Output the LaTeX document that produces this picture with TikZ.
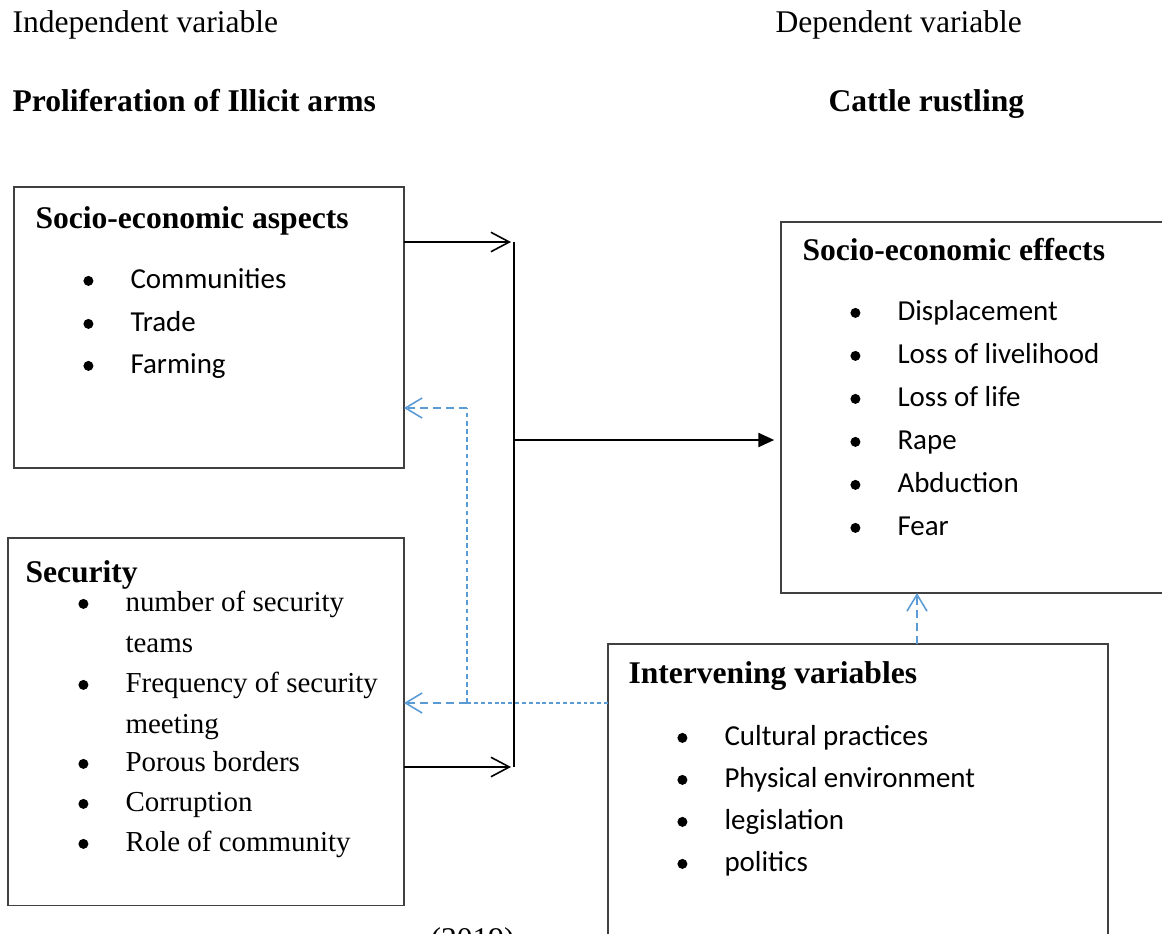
\documentclass[tikz,border=0pt]{standalone}
\usepackage{fontspec}
\setmainfont{Liberation Serif}
\newfontfamily\calibri{Carlito}
\usetikzlibrary{arrows.meta,positioning}
\definecolor{linkblue}{HTML}{5B9BD5}
\definecolor{boxline}{HTML}{404040}
% bullet set 42px (16pt) to the left of the item text
\newcommand{\bl}{\makebox[0pt][r]{\tikz[baseline=-2.7pt]\fill (0,0) circle[radius=1.9pt];\hspace{14.1pt}}}

\begin{document}
\begin{tikzpicture}[
  x=0.38pt, y=-0.38pt,
  font=\fontsize{12}{14}\selectfont,
  box/.style={draw=boxline,line width=0.45pt,outer sep=0pt,inner sep=0pt,anchor=north west},
  plain/.style={anchor=base west,inner sep=0pt},
  head/.style={plain,font=\fontsize{12}{14}\selectfont\bfseries},
  item/.style={plain,font=\calibri\fontsize{11}{13}\selectfont},
  sitem/.style={plain,font=\fontsize{11}{15.6}\selectfont},
  arr/.style={line width=0.55pt,-{Straight Barb[length=7pt,width=7.4pt,line width=0.6pt]}},
  flow/.style={line width=0.55pt,shorten >=2.6pt,-{Triangle[length=6pt,width=5.4pt]}},
  blink/.style={linkblue,line width=0.55pt,dash pattern=on 3pt off 1.9pt,
    -{Straight Barb[length=6.3pt,width=7.6pt,line width=0.6pt]}},
  mid/.style={linkblue,line width=0.45pt,dash pattern=on 1.8pt off 1.3pt},
  fine/.style={linkblue,line width=0.4pt,dash pattern=on 1.5pt off 1.1pt}
]
\useasboundingbox (0,0) rectangle (1162,934);
\clip (0,0) rectangle (1162,934);

% headings
\node[plain] (indep) at (12,32) {Independent variable};
\node[plain] (dep) at (775,32) {Dependent variable};
\node[head] (cause) at (12,111) {Proliferation of Illicit arms};
\node[head] (effect) at (828,111) {Cattle rustling};

% boxes
\node[box,minimum width=148.2pt,minimum height=106.8pt] (aspects) at (14,187) {};
\node[box,minimum width=150.5pt,minimum height=139.8pt] (security) at (8,538) {};
\node[box,minimum width=152pt,minimum height=141pt] (effects) at (781,222) {};
\node[box,minimum width=190pt,minimum height=130pt] (intervening) at (608,644) {};

% box contents
\node[head] (asptitle) at (35,228) {Socio-economic aspects};
\foreach \yy/\txt [count=\i] in {288/Communities,331/Trade,373/Farming}
  \node[item] (asp\i) at (130,\yy) {\bl\txt};

\node[head] (sectitle) at (25,582) {Security};
\foreach \yy/\txt [count=\i] in {611/{number of security\\teams},692/{Frequency of security\\meeting},
    771/Porous borders,811/Corruption,851/Role of community}
  \node[sitem] (sec\i) at (125,\yy) {\bl\parbox[t]{110pt}{\raggedright\txt}};

\node[head] (efftitle) at (802,260) {Socio-economic effects};
\foreach \yy/\txt [count=\i] in {320/Displacement,363/Loss of livelihood,406/Loss of life,
    449/Rape,492/Abduction,535/Fear}
  \node[item] (eff\i) at (897,\yy) {\bl\txt};

\node[head] (inttitle) at (628,683) {Intervening variables};
\foreach \yy/\txt [count=\i] in {745/Cultural practices,787/Physical environment,829/legislation,871/politics}
  \node[item] (int\i) at (724,\yy) {\bl\txt};

\node[plain] (year) at (430,949) {(2019)};

% connectors
\coordinate (bartop) at (514,242);
\coordinate (barbot) at (514,767);
\coordinate (barmid) at (514,440);
\coordinate (split) at (467,703);
\coordinate (turn) at (467,408);
\coordinate (upfoot) at (917,644);

\draw[line width=0.55pt] (bartop) -- (barbot);
\draw[arr] (aspects.east |- bartop) -- ++(107,0);
\draw[arr] (security.east |- barbot) -- ++(107,0);
\draw[flow] (barmid) -- (barmid -| effects.west);

\draw[fine] (intervening.west |- split) -- (split);
\draw[mid] (split) -- (turn);
\draw[blink] (split) -- (security.east |- split);
\draw[blink] (turn) -- (aspects.east |- turn);
\draw[blink] (upfoot) -- (upfoot |- effects.south);
\end{tikzpicture}
\end{document}
